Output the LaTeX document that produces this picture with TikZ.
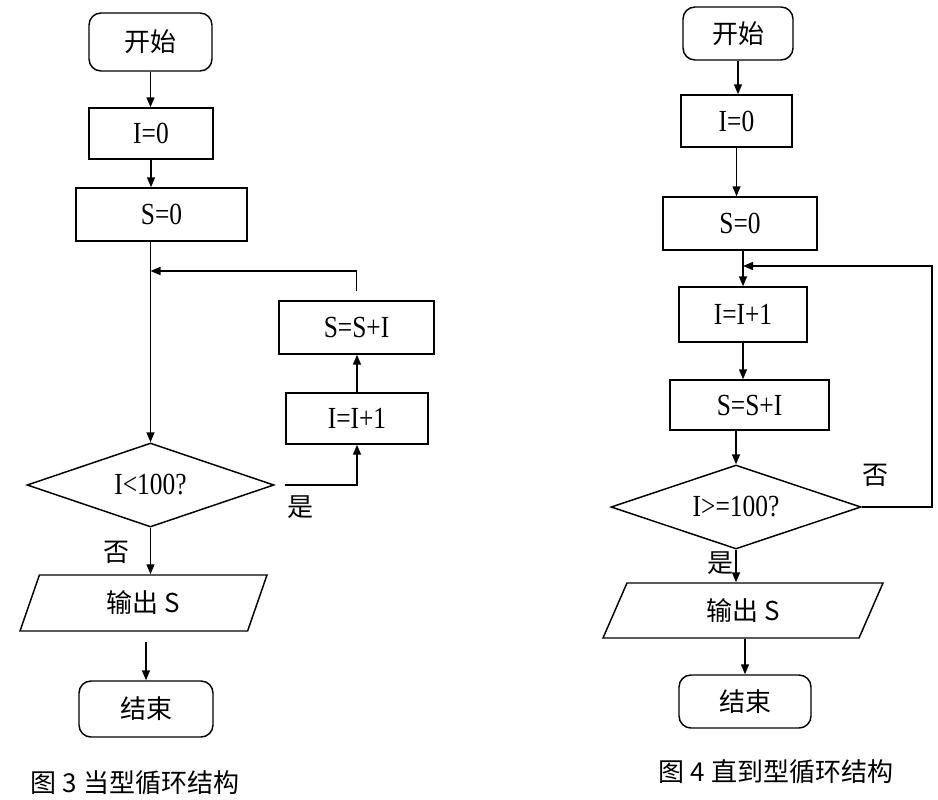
\documentclass[tikz,border=0pt]{standalone}
\usepackage{fontspec}
\setmainfont{Liberation Serif}[FakeStretch=0.83]
\newfontfamily\cjk{Noto Sans CJK SC}
\usetikzlibrary{shapes.geometric,arrows.meta}
\begin{document}
\begin{tikzpicture}[x=0.75pt,y=-0.75pt,line width=1.1pt,
  arr/.style={-{Triangle[length=7.5pt,width=6pt]}},
  sz/.style 2 args={minimum width=#1*0.75pt,minimum height=#2*0.75pt},
  term/.style={draw,rounded corners=9pt,inner sep=0pt,font=\cjk\fontsize{19.5}{20}\selectfont},
  proc/.style={draw,inner sep=0pt,font=\fontsize{23}{25}\selectfont},
  dec/.style={draw,diamond,aspect=3,inner sep=0pt,font=\fontsize{23}{25}\selectfont},
  io/.style={draw,trapezium,trapezium stretches body,inner sep=0pt,font=\cjk\fontsize{19.5}{20}\selectfont},
  lbl/.style={inner sep=0pt,font=\cjk\fontsize{19.5}{20}\selectfont}]
\useasboundingbox (0,0) rectangle (938,799);
% ---------- left: figure 3 ----------
\node[term,sz={123}{58}] (start1) at (150.5,42) {开始};
\node[proc,sz={124}{51}] (ia1) at (151,133.5) {I=0};
\node[proc,sz={171}{53}] (sa1) at (161.5,214.5) {S=0};
\node[proc,sz={155}{53}] (ssi1) at (356.5,327.5) {S=S+I};
\node[proc,sz={142}{51}] (ii1) at (357,418.5) {I=I+1};
\node[dec,sz={247}{84}] (dia1) at (150.5,485) {I<100?};
\node[io,trapezium left angle=51,trapezium right angle=129,sz={247}{56}] (out1) at (143.5,603) {输出 S};
\node[term,sz={134}{56}] (end1) at (146,709) {结束};
\node[lbl] (yes1) at (300,507) {是};
\node[lbl] (no1) at (116,552) {否};
\node[lbl] (cap1) at (135,783) {图 3 当型循环结构};
\coordinate (j1) at (150.5,271);
\draw[arr] (start1.south) -- (start1.south |- ia1.north);
\draw[arr] (ia1.south) -- (ia1.south |- sa1.north);
\draw[arr] (sa1.south -| dia1.north) -- (dia1.north);
\draw[arr,shorten <=6.75pt] (ssi1.north) |- (j1);
\draw[arr] (ii1.north) -- (ii1.north |- ssi1.south);
\draw[arr,shorten <=7.5pt] (dia1.east) -| (ii1.south);
\draw[arr] (dia1.south) -- (dia1.south |- out1.north);
\draw[arr,shorten <=8pt] (end1.north |- out1.south) -- (end1.north);
% ---------- right: figure 4 ----------
\node[term,sz={110}{53}] (start2) at (738,33.5) {开始};
\node[proc,sz={111}{52}] (ia2) at (736.5,121) {I=0};
\node[proc,sz={154}{53}] (sa2) at (740,223.5) {S=0};
\node[proc,sz={128}{55}] (ii2) at (743,314.5) {I=I+1};
\node[proc,sz={159}{50}] (ssi2) at (749.5,405) {S=S+I};
\node[dec,sz={250}{84}] (dia2) at (736,507) {I>=100?};
\node[io,trapezium left angle=45,trapezium right angle=135,sz={280}{55}] (out2) at (743,610.5) {输出 S};
\node[term,sz={132}{53}] (end2) at (745,701.5) {结束};
\node[lbl] (no2) at (875,475) {否};
\node[lbl] (yes2) at (720,563) {是};
\node[lbl] (cap2) at (776,772) {图 4 直到型循环结构};
\coordinate (j2) at (743,266);
\coordinate (c2) at (932,507);
\draw[arr] (start2.south) -- (start2.south |- ia2.north);
\draw[arr] (ia2.south) -- (ia2.south |- sa2.north);
\draw[arr] (ii2.north |- sa2.south) -- (ii2.north);
\draw[arr] (ii2.south) -- (ii2.south |- ssi2.north);
\draw[arr] (dia2.north |- ssi2.south) -- (dia2.north);
\draw[arr] (dia2.south) -- (dia2.south |- out2.north);
\draw[arr] (end2.north |- out2.south) -- (end2.north);
\draw[arr] (dia2.east) -- (c2) |- (j2);
\end{tikzpicture}
\end{document}
